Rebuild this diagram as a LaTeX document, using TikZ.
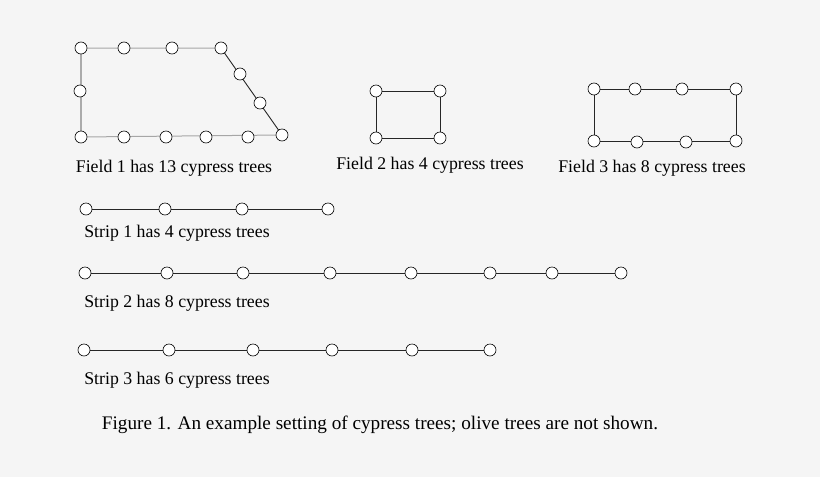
\documentclass[tikz,border=0pt]{standalone}
\usepackage{fontspec}
\setmainfont{Liberation Serif}
\begin{document}
\begin{tikzpicture}[x=1pt,y=-1pt,
  tree/.style={circle,draw=black,fill=white,inner sep=0pt,minimum size=12pt,line width=0.6pt},
  light/.style={draw=gray!70,line width=1pt},
  dark/.style={draw=black!85,line width=0.9pt},
  lbl/.style={font=\fontsize{17.8}{21}\selectfont,inner sep=0pt}]
\fill[gray!8] (0,0) rectangle (820,477);
\useasboundingbox (0,0) rectangle (820,477);
% Field 1
\foreach \n/\x/\y in {a/81/48,b/124/48,c/172/48,d/221/48,e/240/74,f/260/103,g/282/135,h/80/91,i/81/137,j/124/137,k/166/137,l/206/137,m/248/137}
  \coordinate (f1\n) at (\x,\y);
\draw[light] (f1a)--(f1d) (f1i)--(f1g);
\draw[dark] (f1a)--(f1i) (f1d)--(f1g);
\foreach \n in {a,b,c,d,e,f,g,h,i,j,k,l,m} \node[tree] at (f1\n) {};
% Field 2
\coordinate (f2a) at (376,91); \coordinate (f2b) at (440,91);
\coordinate (f2c) at (440,138); \coordinate (f2d) at (376,138);
\draw[dark] (f2a)--(f2b)--(f2c)--(f2d)--cycle;
\foreach \n in {a,b,c,d} \node[tree] at (f2\n) {};
% Field 3
\foreach \n/\x/\y in {a/594/89,b/635/89,c/682/89,d/736/89,e/736/141,f/686/142,g/637/142,h/594/141}
  \coordinate (f3\n) at (\x,\y);
\draw[dark] (f3a)--(f3d)--(f3e)--(f3h)--cycle;
\foreach \n in {a,b,c,d,e,f,g,h} \node[tree] at (f3\n) {};
% Strips
\foreach \x [count=\i] in {86,165,242,328} \coordinate (s1\i) at (\x,209);
\draw[dark] (s11)--(s14);
\foreach \i in {1,...,4} \node[tree] at (s1\i) {};
\foreach \x [count=\i] in {85,167,243,330,411,490,552,621} \coordinate (s2\i) at (\x,273);
\draw[dark] (s21)--(s28);
\foreach \i in {1,...,8} \node[tree] at (s2\i) {};
\foreach \x [count=\i] in {84,169,253,332,412,490} \coordinate (s3\i) at (\x,350);
\draw[dark] (s31)--(s36);
\foreach \i in {1,...,6} \node[tree] at (s3\i) {};
% labels
\node[lbl] (t1) at (174,168) {Field 1 has 13 cypress trees};
\node[lbl] (t2) at (430,165) {Field 2 has 4 cypress trees};
\node[lbl] (t3) at (652,168) {Field 3 has 8 cypress trees};
\node[lbl] (t4) at (177,233) {Strip 1 has 4 cypress trees};
\node[lbl] (t5) at (177,303) {Strip 2 has 8 cypress trees};
\node[lbl] (t6) at (177,380) {Strip 3 has 6 cypress trees};
\node[lbl,font=\fontsize{19.2}{23}\selectfont] (cap) at (380,425) {Figure 1. An example setting of cypress trees; olive trees are not shown.};
\end{tikzpicture}
\end{document}
